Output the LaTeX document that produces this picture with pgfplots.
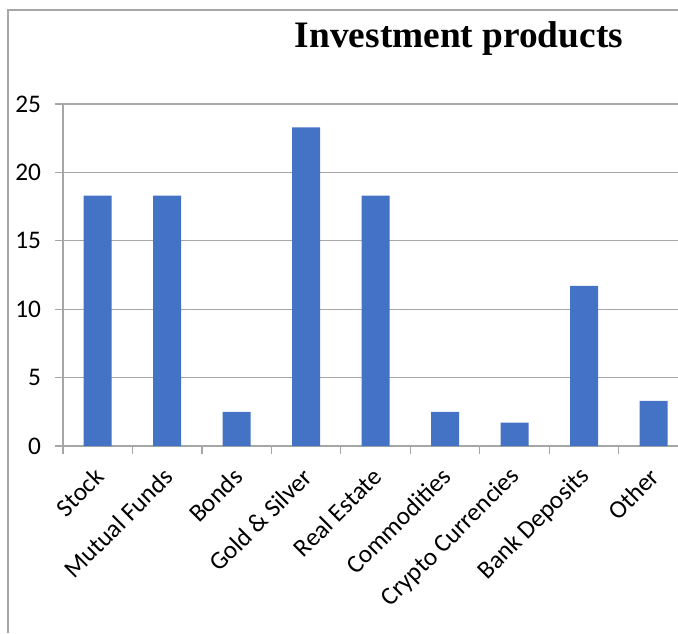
\documentclass[border=0pt]{standalone}
\usepackage{pgfplots}
\pgfplotsset{compat=1.18}
\usepackage{fontspec}
\setmainfont{Carlito}
\newfontfamily\titlefont{Liberation Serif}
\definecolor{barblue}{HTML}{4472C4}
\definecolor{gridgray}{HTML}{A6A6A6}
\begin{document}
\begin{tikzpicture}[x=0.75pt,y=0.75pt]
\useasboundingbox (0,0) rectangle (678,633);
\draw[gridgray, line width=1.2pt] (8,0) -- (8,623) -- (678,623);
\node[font=\titlefont\bfseries\fontsize{28}{30}\selectfont, anchor=base] at (459,585) {Investment products};
\begin{axis}[
  at={(47.25pt,140.25pt)}, anchor=south west,
  scale only axis, width=461.25pt, height=256.5pt,
  xmin=-0.5, xmax=8.35, ymin=0, ymax=25,
  ytick={0,5,...,25},
  xtick={0,...,8},
  xticklabels={Stock,Mutual Funds,Bonds,Gold \& Silver,Real Estate,Commodities,Crypto Currencies,Bank Deposits,Other},
  minor xtick={-0.5,0.5,...,7.5},
  major x tick style={draw=none},
  minor tick length=6pt,
  major tick length=6pt,
  tick align=outside,
  axis x line*=bottom, axis y line*=left,
  axis line style={gridgray, line width=0.8pt, -},
  tick style={gridgray, line width=0.8pt},
  ymajorgrids, grid style={gridgray, line width=0.8pt},
  /pgf/number format/assume math mode=true,
  ticklabel style={font=\fontsize{19}{21}\selectfont},
  xticklabel style={xshift=3.5pt, yshift=-11.5pt, rotate=45, anchor=east},
  yticklabel style={xshift=-7pt},
  ybar, bar width=21pt,
]
\addplot[fill=barblue, draw=none] coordinates {
(0,18.3) (1,18.3) (2,2.5) (3,23.3) (4,18.3) (5,2.5) (6,1.7) (7,11.7) (8,3.3)};
\end{axis}
\end{tikzpicture}
\end{document}
